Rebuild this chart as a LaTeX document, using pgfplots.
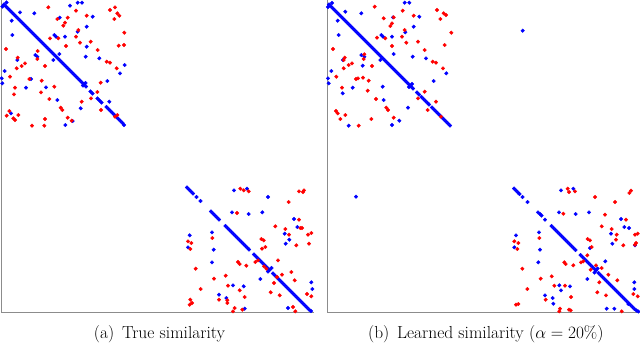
\documentclass[border=0pt]{standalone}
\usepackage{pgfplots}
\usepackage{pgfplotstable}
\pgfplotsset{compat=1.18}

% ---------- left panel ----------
\pgfplotstableread{
x y
4 4.5
6 6.5
8 8.5
10 10.5
12 12.5
14 14.5
16 16.5
18 18.5
20 20.5
22 22.5
24 24.5
26 26.5
28 28.5
30 30.5
32 32.5
34 34.5
36 36.5
38 38.5
40 40.5
42 42.5
44 44.5
46 46.5
48 48.5
50 50.5
52 52.5
54 54.5
56 56.5
58 58.5
60 60.5
62 62.5
64 64.5
66 66.5
68 68.5
70 70.5
72 72.5
74 74.5
76 76.5
78 78.5
80 80.5
82 82.5
84 84.5
86 86.5
90.5 91.5
92.5 93.5
97.5 98.5
99.5 100.5
101.5 102.5
106.5 107
108.5 109
110.5 111
112.5 113
114.5 115
116.5 117
118.5 119
120.5 121
122.5 123
124 125
2.5 6.5
6.5 2.5
83 85.5
85.5 83
187 187.5
189 189.5
191 191.5
193 193.5
196.5 197
200.5 201
211 211.5
213 213.5
215 215.5
217 217.5
219 219.5
225.5 226
227.5 228
229.5 230
231.5 232
233.5 234
235.5 236
237.5 238
239.5 240
241.5 242
243.5 244
245.5 246
247.5 248
249 249.5
254 254.5
256 256.5
258 258.5
260 260.5
262 262.5
264 264.5
266 266.5
268 268.5
269.5 270
268 271.5
271.5 268
273 273.5
275 275.5
277 277.5
279 279.5
281 281.5
283 283.5
285 285.5
287 287.5
289 289.5
291 291.5
293 293.5
295 295.5
297 297.5
299 299.5
301 301.5
303 303.5
305 305.5
307 307.5
309 309.5
311 311
70 5.7
77.7 2.7
82 2.7
20 12.3
34.3 13.3
11.7 20.7
59.7 17.7
92.7 16.7
77.7 31.7
86.7 26.7
12.3 35
54.3 35
56 36.7
65 36.7
86.7 46.7
35.3 55
37.3 56.7
59.3 54
53.3 60
17.3 60
85.7 56.7
99.3 58.3
120 73.3
124.7 65
4.7 71
1.7 78.3
2.3 83.3
31 79
26 87.7
46 87.3
107.3 81
57.3 100
109.3 101.7
80.7 108.3
72.7 121
65.3 125
11 113.3
234 190.3
247 188.7
268 197
232 212.3
248.7 214
262.3 212.3
294 219
297.3 227
284.7 233.7
285.7 243.7
212 232.3
189.7 235.3
188 247.3
213.7 249.7
212 262.3
260.3 279
233 285.3
243.7 286.3
219 294.7
226.3 298
244.7 308.7
288 308
312.3 289
311.3 282.3
289.3 239.7
}\leftblue

\pgfplotstableread{
x y
48.3 7.3
110 10
115 7.3
117.3 13.3
119.3 15.7
114.3 19
76 10.7
86.7 15.7
67.7 17.7
57.3 19
65 22.7
63.3 25.7
78.3 30
124.3 32.7
50 38.3
58.3 38.3
76 36.7
80 42.7
66 46
90.7 41.7
118.7 45.7
124 45
6 49
37.7 51
97.7 50
17.7 57.7
37.3 59
106.7 61.7
110 62.7
25 63.3
21.7 66
16.7 68.3
45 66
116.7 68.3
10 76.7
29.3 79
41.7 80.7
100.7 82.7
15 87.7
54.3 86.7
97.3 92
41 92.3
14 94.3
91 98.3
49.3 99
81.7 101.7
60.7 107.7
62.3 110
101 110
9.3 111
6.7 115.7
18.3 115
13.3 118.3
15 120
45 119
67.7 117.7
71.7 120.7
32 125.7
44.3 125.7
115 116.7
117.3 115
240.3 188.7
243.7 190.3
248.7 191.3
299 191.3
303 192
304 190.3
288.7 202
237 213
275.3 226.3
285.3 229
299 219.7
300.3 228
302 228
311.3 233
308 234.7
289 234.7
188 241.3
191.3 243
190.3 249
212.3 238
261.3 239
263.7 240.3
296.3 245.3
309 243.7
265.3 247
262 248.7
195.7 268.7
238 262
239.7 264
246.3 265.7
255.3 262
258 260.3
264 266.3
278 260.3
266.3 268.7
291.3 272
282 274.7
277 277
294.7 280.3
214 278.7
225.7 275.7
274 283
200.7 289
228 285.7
239.7 290.3
244.7 297
270.7 292.3
279.7 295.3
307 294
311.3 296.3
219 299.7
227.3 300.3
227.3 303
190.3 299.7
192 303
189.7 304.7
234.7 308
233 311.3
242.3 309.7
293 307
295.3 311.3
}\leftred

% ---------- right panel ----------
\pgfplotstableread{
x y
329 4.5
331 6.5
333 8.5
335 10.5
337 12.5
339 14.5
341 16.5
343 18.5
345 20.5
347 22.5
349 24.5
351 26.5
353 28.5
355 30.5
357 32.5
359 34.5
361 36.5
363 38.5
365 40.5
367 42.5
369 44.5
371 46.5
373 48.5
375 50.5
377 52.5
379 54.5
381 56.5
383 58.5
385 60.5
387 62.5
389 64.5
391 66.5
393 68.5
395 70.5
397 72.5
399 74.5
401 76.5
403 78.5
405 80.5
407 82.5
409 84.5
411 86.5
413 88.5
417 92.5
419 94.5
421.5 97
423.5 99
425.5 101
427.5 103
429 104.5
432 107.5
434 109.5
436 111.5
438 113.5
440 115.5
442 117.5
444 119.5
446 121.5
448 123.5
450 125.5
328 7
332 3
409 87
412 84
514 188.5
516 190.5
518 192.5
519.5 194
522.5 197
527.5 202
538 212.3
540 214
541.5 215.5
545 219.7
551.5 226
553.5 228
555.5 230
557.5 232
559.5 234
561.5 236
563.5 238
565.5 240
567.5 242
569.5 244
571.5 246
573.5 248
575.5 250
580.5 255
582.5 257
584.5 259
586.5 261
588.5 263
590.5 265
592.5 267
594.5 269
596 270.5
594.5 272.5
597.5 268.5
598.5 273
600.5 275
602.5 277
604.5 279
606.5 281
608.5 283
610.5 285
612.5 287
614.5 289
616.5 291
618.5 293
620.5 295
622.5 297
624.5 299
626.5 301
628.5 303
630.5 305
632.5 307
634.5 309
636.5 310.5
638.3 311.5
404.7 2.7
409.3 2.7
393 17.3
419.3 16.7
361.3 13.3
345.3 11.7
337.7 20.7
405.3 32.3
413.7 26.7
338.7 35
381.3 35
383 36.7
392 36.7
412.7 56.7
393.7 54
361.3 55
364.3 56.7
426 58.3
343 60
380.3 60
362.7 65.7
331.3 71
446.3 73.3
328 78.3
328.7 83.3
352.7 87.7
382.7 86.7
433.7 81
342.7 93.3
383.7 100
408 107.7
399.3 120.7
392 125
348.7 125.7
522.7 30.7
356 196.7
561 190.3
573.3 188.7
559 212.3
575.7 214
589 212.3
621 219
624.3 227
629 228
611 233.7
612.3 243.7
635 245.3
516 235.3
514.3 247.3
539 232.3
540 249.7
538.3 262.3
590 248
605.3 261.3
587.3 279
634.3 282.3
634.3 289
559.3 285.3
570 286.3
561 290.3
545 295.3
552.7 298
553.3 303.7
606.7 308.7
614.3 308.7
628.3 304
}\rightblue

\pgfplotstableread{
x y
374.7 6.7
402.7 10.7
413.7 15.7
383.7 18.3
393.7 17.3
390.3 26
392 23.3
404.7 30
437 10
443.7 13.3
446 15
440.3 19
451.3 32.7
385.3 38.3
377 37.7
402 36.7
406.3 42.7
392 46
418 41.7
444.7 45
333 49
424.7 50
364.3 54.3
344.7 57.7
343.7 60
363.7 59
432.7 61.7
436 62.7
352 63.3
348.7 65
343.7 68.3
372 66
443 68.3
336.3 76.7
356 79
358 78.3
368.7 80.7
363 77.7
424.7 91.7
342 87.7
367.7 90.7
418 98.3
376 99
436 101.7
386.3 107.7
388 110
427.7 110
336 111
337.7 113.3
340.3 119
345.3 115
371.3 119
393.7 117.7
358.7 125.7
441 116.7
567.7 188.7
569 192
575 191.3
629.3 193
631 190.7
595 197
615 202
563.3 213.7
605 214.7
601.7 226.3
626 219.7
611.7 229
616.7 234.7
616 239.7
635 234.7
637.7 233.7
636 243
635 244.7
623.3 245.3
514.3 241.3
518.3 243
517.3 249
539.3 238
587.7 239
590 240.3
591.7 247
522.3 268.7
564.3 262.3
565.7 264
573.3 265.3
581 262.3
583.3 261.3
587.3 255.3
596 265.3
590.7 269.7
601.7 268
608.3 274.7
599.3 282.3
617.3 280.3
551.7 276.3
540.7 278.7
527.3 289
554.3 285.7
565 285.7
571 297
597.3 292.3
606 295.3
633.3 294
637.7 296.3
545.7 299.7
516 304.7
518.3 304
560 308.7
559.3 311.3
569 309.7
570.7 310.3
621.7 311.3
}\rightred

\definecolor{dotblue}{RGB}{0,0,255}
\definecolor{dotred}{RGB}{255,0,0}

\begin{document}
\begin{tikzpicture}
\path[use as bounding box] (0pt,0pt) rectangle (640pt,-343pt);
\draw[black!45, line width=0.9pt] (1pt,0pt) -- (1pt,-312.5pt) -- (314pt,-312.5pt);
\draw[black!45, line width=0.9pt] (327.5pt,0pt) -- (327.5pt,-312.5pt) -- (640pt,-312.5pt);
\pgfplotsset{
  panel/.style={anchor=south west, scale only axis, width=313pt, height=312.5pt,
    ymin=0, ymax=312.5, y dir=reverse, hide axis, clip=false},
  dotb/.style={color=dotblue, only marks, mark=*, mark size=1.8pt, line width=0.3pt,
    mark options={solid, draw=dotblue, fill=dotblue}},
  dotr/.style={color=dotred, only marks, mark=*, mark size=1.8pt, line width=0.3pt,
    mark options={solid, draw=dotred, fill=dotred}},
}
\begin{axis}[panel, at={(1pt,-312.5pt)}, xmin=1, xmax=314]
\addplot[dotb] table[x=x,y=y] {\leftblue};
\addplot[dotr] table[x=x,y=y] {\leftred};
\end{axis}
\begin{axis}[panel, at={(327.5pt,-312.5pt)}, xmin=327.5, xmax=640.5]
\addplot[dotb] table[x=x,y=y] {\rightblue};
\addplot[dotr] table[x=x,y=y] {\rightred};
\end{axis}
\node[anchor=base, inner sep=0pt] at (159.5pt,-338.5pt) {\fontsize{17.4}{20}\selectfont (a)\hspace{0.45em}True similarity};
\node[anchor=base, inner sep=0pt] at (485.8pt,-338.5pt) {\fontsize{17.4}{20}\selectfont (b)\hspace{0.45em}Learned similarity ($\alpha = 20\%$)};
\end{tikzpicture}
\end{document}
